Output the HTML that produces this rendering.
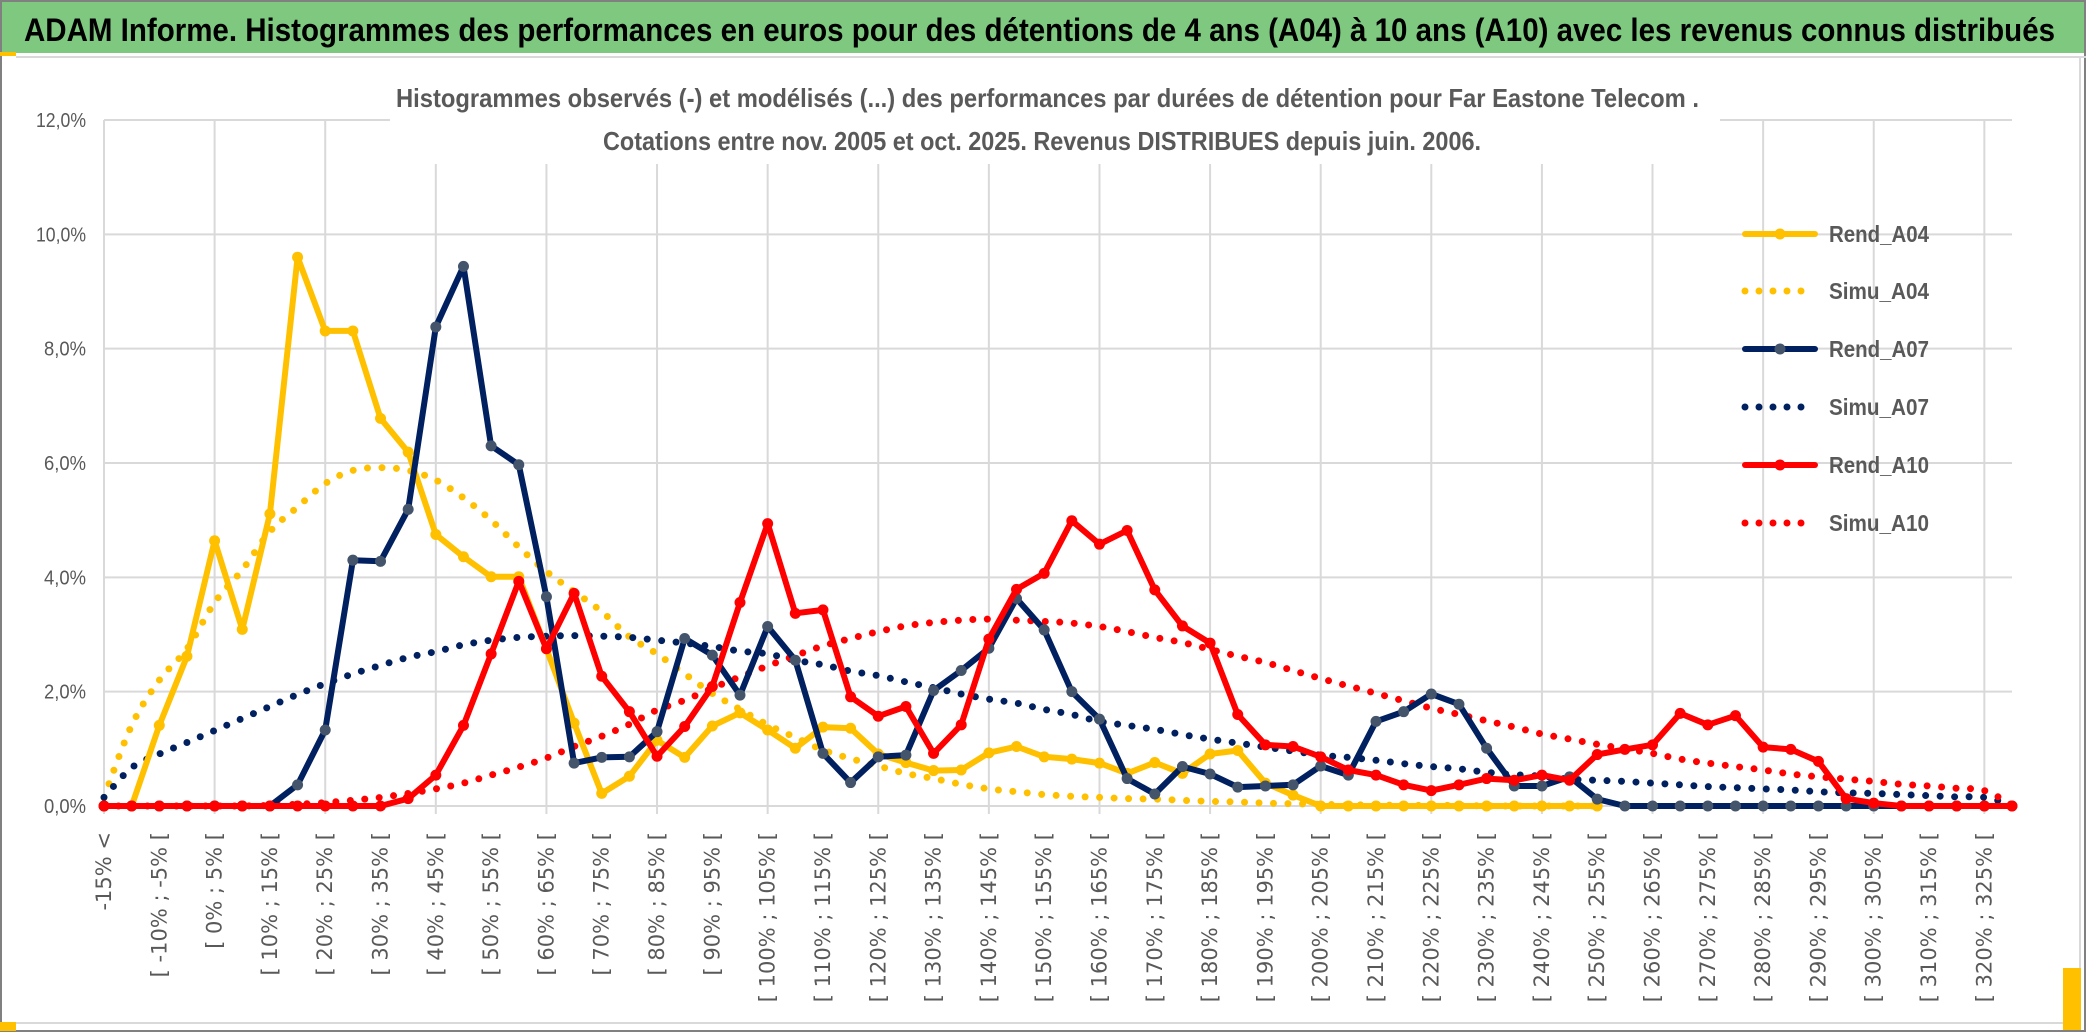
<!DOCTYPE html>
<html><head><meta charset="utf-8">
<style>
html,body{margin:0;padding:0;background:#fff;}
svg{display:block;}
</style></head>
<body>
<svg id="chart" width="2086" height="1033" viewBox="0 0 2086 1033" xmlns="http://www.w3.org/2000/svg">
  <rect x="0" y="0" width="2086" height="1033" fill="#fff"/>
  <rect x="1" y="1" width="2084" height="1030" fill="none" stroke="#808080" stroke-width="2"/>
  <rect x="2" y="2" width="2082" height="51" fill="#7ec880"/>
  <rect x="0" y="52" width="16" height="4" fill="#ffc000"/>
  <line x1="16" y1="57" x2="2086" y2="57" stroke="#d9d9d9" stroke-width="2"/>
  <text x="24" y="41" font-family="Liberation Sans, sans-serif" font-weight="bold" font-size="32" fill="#000" textLength="2031" lengthAdjust="spacingAndGlyphs">ADAM Informe. Histogrammes des performances en euros pour des détentions de 4 ans (A04) à 10 ans (A10) avec les revenus connus distribués</text>
  <line x1="16" y1="1023" x2="2080" y2="1023" stroke="#d9d9d9" stroke-width="2"/>
  <line x1="2080" y1="57" x2="2080" y2="1023" stroke="#d9d9d9" stroke-width="2"/>
  <rect x="0" y="1022" width="16" height="9" fill="#ffc000"/>
  <rect x="2063" y="968" width="18" height="62" fill="#ffc000"/>
  <g id="grid"></g>
  <rect x="390" y="62" width="1330" height="102" fill="#fff"/>
  <text x="396" y="107" font-family="Liberation Sans, sans-serif" font-weight="bold" font-size="26" fill="#595959" textLength="1303" lengthAdjust="spacingAndGlyphs">Histogrammes observés (-) et modélisés (...) des performances par durées de détention pour Far Eastone Telecom .</text>
  <text x="603" y="150" font-family="Liberation Sans, sans-serif" font-weight="bold" font-size="26" fill="#595959" textLength="878" lengthAdjust="spacingAndGlyphs">Cotations entre nov. 2005 et oct. 2025. Revenus DISTRIBUES depuis juin. 2006.</text>
  <g id="yaxis"></g>
  <g id="xaxis"></g>
  <g id="series"></g>
  <g id="legend"></g>
</svg>
<script>
const categories = ["-15% <","[ -15% ; -10% [","[ -10% ; -5% [","[ -5% ; 0% [","[ 0% ; 5% [","[ 5% ; 10% [","[ 10% ; 15% [","[ 15% ; 20% [","[ 20% ; 25% [","[ 25% ; 30% [","[ 30% ; 35% [","[ 35% ; 40% [","[ 40% ; 45% [","[ 45% ; 50% [","[ 50% ; 55% [","[ 55% ; 60% [","[ 60% ; 65% [","[ 65% ; 70% [","[ 70% ; 75% [","[ 75% ; 80% [","[ 80% ; 85% [","[ 85% ; 90% [","[ 90% ; 95% [","[ 95% ; 100% [","[ 100% ; 105% [","[ 105% ; 110% [","[ 110% ; 115% [","[ 115% ; 120% [","[ 120% ; 125% [","[ 125% ; 130% [","[ 130% ; 135% [","[ 135% ; 140% [","[ 140% ; 145% [","[ 145% ; 150% [","[ 150% ; 155% [","[ 155% ; 160% [","[ 160% ; 165% [","[ 165% ; 170% [","[ 170% ; 175% [","[ 175% ; 180% [","[ 180% ; 185% [","[ 185% ; 190% [","[ 190% ; 195% [","[ 195% ; 200% [","[ 200% ; 205% [","[ 205% ; 210% [","[ 210% ; 215% [","[ 215% ; 220% [","[ 220% ; 225% [","[ 225% ; 230% [","[ 230% ; 235% [","[ 235% ; 240% [","[ 240% ; 245% [","[ 245% ; 250% [","[ 250% ; 255% [","[ 255% ; 260% [","[ 260% ; 265% [","[ 265% ; 270% [","[ 270% ; 275% [","[ 275% ; 280% [","[ 280% ; 285% [","[ 285% ; 290% [","[ 290% ; 295% [","[ 295% ; 300% [","[ 300% ; 305% [","[ 305% ; 310% [","[ 310% ; 315% [","[ 315% ; 320% [","[ 320% ; 325% [","[ 325% ; 330% ["];
const yTicks = [0, 2, 4, 6, 8, 10, 12];
const yTickLabels = ["0,0%","2,0%","4,0%","6,0%","8,0%","10,0%","12,0%"];
const rendA04 = [0,0,1.41,2.62,4.64,3.09,5.11,9.6,8.31,8.31,6.78,6.19,4.75,4.36,4.01,4.01,2.75,1.45,0.22,0.52,1.15,0.85,1.4,1.63,1.33,1.01,1.38,1.36,0.91,0.76,0.62,0.63,0.93,1.04,0.86,0.82,0.75,0.57,0.76,0.57,0.91,0.97,0.4,0.19,0,0,0,0,0,0,0,0,0,0,0];
const simuA04 = [0.15,1.41,2.2,2.75,3.56,4.13,4.8,5.23,5.64,5.87,5.92,5.87,5.7,5.39,5.0,4.53,4.1,3.75,3.4,2.96,2.66,2.31,1.97,1.69,1.42,1.2,0.98,0.83,0.7,0.57,0.48,0.38,0.3,0.25,0.2,0.17,0.15,0.13,0.12,0.1,0.08,0.07,0.05,0.04,0.03,0.02,0.02,0.01,0.01,0.01,0,0,0,0,0];
const rendA07 = [0,0,0,0,0,0,0,0.37,1.33,4.3,4.28,5.19,8.38,9.44,6.3,5.97,3.66,0.75,0.85,0.86,1.3,2.93,2.64,1.94,3.14,2.55,0.92,0.41,0.86,0.89,2.02,2.37,2.76,3.63,3.08,2.0,1.52,0.48,0.21,0.69,0.56,0.33,0.35,0.37,0.7,0.54,1.48,1.65,1.96,1.78,1.01,0.35,0.35,0.51,0.12,0,0,0,0,0,0,0,0,0,0,0,0,0,0,0];
const simuA07 = [0.15,0.67,0.91,1.11,1.32,1.53,1.74,1.95,2.14,2.31,2.46,2.6,2.7,2.82,2.9,2.95,2.97,2.98,2.97,2.95,2.9,2.85,2.79,2.71,2.66,2.55,2.47,2.36,2.28,2.17,2.07,1.96,1.87,1.8,1.69,1.6,1.48,1.41,1.34,1.25,1.17,1.1,1.03,0.96,0.89,0.85,0.8,0.74,0.69,0.65,0.59,0.55,0.52,0.47,0.45,0.43,0.4,0.37,0.34,0.32,0.3,0.28,0.25,0.23,0.22,0.2,0.18,0.16,0.15,0.02];
const rendA10 = [0,0,0,0,0,0,0,0,0,0,0,0.13,0.54,1.41,2.66,3.93,2.75,3.72,2.27,1.65,0.87,1.39,2.09,3.56,4.94,3.37,3.43,1.91,1.57,1.74,0.92,1.42,2.92,3.79,4.07,4.99,4.58,4.82,3.78,3.15,2.85,1.6,1.07,1.04,0.86,0.63,0.54,0.37,0.27,0.37,0.48,0.45,0.54,0.45,0.9,0.99,1.07,1.62,1.42,1.58,1.03,0.99,0.78,0.13,0.05,0,0,0,0,0];
const simuA10 = [0,0,0,0,0,0,0.01,0.03,0.06,0.1,0.15,0.22,0.3,0.4,0.54,0.68,0.84,1.04,1.22,1.43,1.68,1.85,2.06,2.26,2.45,2.63,2.8,2.93,3.05,3.15,3.21,3.25,3.27,3.25,3.23,3.2,3.14,3.05,2.95,2.86,2.74,2.62,2.51,2.37,2.23,2.1,1.97,1.84,1.71,1.6,1.49,1.38,1.26,1.17,1.08,1.0,0.92,0.82,0.75,0.69,0.63,0.56,0.51,0.47,0.43,0.38,0.35,0.31,0.27,0.02];
const seriesNames = ["Rend_A04","Simu_A04","Rend_A07","Simu_A07","Rend_A10","Simu_A10"];

const NS = "http://www.w3.org/2000/svg";
const X0 = 104, X1 = 2012, Y0 = 806, YTOP = 120, YMAX = 12;
function xPos(i){ return X0 + (X1 - X0) * i / (categories.length - 1); }
function yPos(v){ return Y0 - (Y0 - YTOP) * v / YMAX; }
function mk(tag, attrs, parent){ const e = document.createElementNS(NS, tag); for (const k in attrs) e.setAttribute(k, attrs[k]); parent.appendChild(e); return e; }

const grid = document.getElementById('grid');
yTicks.forEach(function(t){
  const l = mk('line', {x1: X0, x2: X1, y1: yPos(t), y2: yPos(t), stroke: '#d9d9d9', 'stroke-width': 2}, grid);
  
  
});
for (let i = 0; i < categories.length; i += 4) {
  const l = mk('line', {x1: xPos(i), x2: xPos(i), y1: YTOP, y2: Y0 + 8, stroke: '#d9d9d9', 'stroke-width': 2}, grid);
  
  
}

const yaxis = document.getElementById('yaxis');
yTicks.forEach(function(t, k){
  const tx = mk('text', {x: 86, y: yPos(t) + 7, 'text-anchor': 'end', 'font-family': 'Liberation Sans, sans-serif', 'font-size': 20, fill: '#595959', textLength: yTickLabels[k].length > 4 ? 50 : 42, lengthAdjust: 'spacingAndGlyphs'}, yaxis);
  tx.textContent = yTickLabels[k];
  
  
});

const xaxis = document.getElementById('xaxis');
for (let i = 0; i < categories.length; i += 2) {
  const x = xPos(i) + 7, y = 832;
  const tx = mk('text', {x: x, y: y, transform: 'rotate(-90 ' + x + ' ' + y + ')', 'text-anchor': 'end', 'font-family': 'DejaVu Sans, sans-serif', 'font-size': 21, fill: '#595959'}, xaxis);
  tx.textContent = categories[i];
  
  
}

function smoothPath(vals){
  const p = vals.map(function(v, i){ return [xPos(i), yPos(v)]; });
  let d = 'M' + p[0][0].toFixed(1) + ',' + p[0][1].toFixed(1);
  for (let i = 0; i < p.length - 1; i++) {
    const a = p[Math.max(0, i - 1)], b = p[i], c = p[i + 1], e = p[Math.min(p.length - 1, i + 2)];
    const c1x = b[0] + (c[0] - a[0]) / 6, c1y = b[1] + (c[1] - a[1]) / 6;
    const c2x = c[0] - (e[0] - b[0]) / 6, c2y = c[1] - (e[1] - b[1]) / 6;
    d += ' C' + c1x.toFixed(1) + ',' + c1y.toFixed(1) + ' ' + c2x.toFixed(1) + ',' + c2y.toFixed(1) + ' ' + c[0].toFixed(1) + ',' + c[1].toFixed(1);
  }
  return d;
}
function linePoints(vals){ return vals.map(function(v, i){ return xPos(i).toFixed(1) + ',' + yPos(v).toFixed(1); }).join(' '); }

const seriesG = document.getElementById('series');
function drawRend(vals, color, markerColor, name){
  const g = mk('g', {}, seriesG);
  
  
  const pl = mk('polyline', {points: linePoints(vals), fill: 'none', stroke: color, 'stroke-width': 6, 'stroke-linejoin': 'round', 'stroke-linecap': 'round'}, g);
  
  
  vals.forEach(function(v, i){
    const c = mk('circle', {cx: xPos(i), cy: yPos(v), r: 5.5, fill: markerColor}, g);
    
    
  });
}
function drawSimu(vals, color, name){
  const p = mk('path', {d: smoothPath(vals), fill: 'none', stroke: color, 'stroke-width': 7, 'stroke-linecap': 'round', 'stroke-dasharray': '0 14.5'}, seriesG);
  
  
}
drawSimu(simuA04, '#ffc000', 'simu-a04-curve');
drawSimu(simuA07, '#002060', 'simu-a07-curve');
drawSimu(simuA10, '#ff0000', 'simu-a10-curve');
drawRend(rendA04, '#ffc000', '#ffc000', 'rend-a04-series');
drawRend(rendA07, '#002060', '#44546a', 'rend-a07-series');
drawRend(rendA10, '#ff0000', '#ff0000', 'rend-a10-series');

const legend = document.getElementById('legend');
const legendColors = ['#ffc000','#ffc000','#002060','#002060','#ff0000','#ff0000'];
const legendMarkers = ['#ffc000','','#44546a','','#ff0000',''];
const legendY = [234, 291, 349, 407, 465, 523];
seriesNames.forEach(function(n, k){
  const y = legendY[k];
  const dotted = n.indexOf('Simu') === 0;
  const ln = mk('line', {x1: 1745, x2: 1815, y1: y, y2: y, stroke: legendColors[k], 'stroke-width': dotted ? 7 : 6, 'stroke-linecap': 'round', 'stroke-dasharray': dotted ? '0 14' : 'none'}, legend);
  
  
  if (!dotted) {
    const c = mk('circle', {cx: 1780, cy: y, r: 5.5, fill: legendMarkers[k]}, legend);
    
    
  }
  const t = mk('text', {x: 1829, y: y + 8, 'font-family': 'Liberation Sans, sans-serif', 'font-weight': 'bold', 'font-size': 23, fill: '#595959', textLength: 100, lengthAdjust: 'spacingAndGlyphs'}, legend);
  t.textContent = n;
  
  
});
</script>
</body></html>
